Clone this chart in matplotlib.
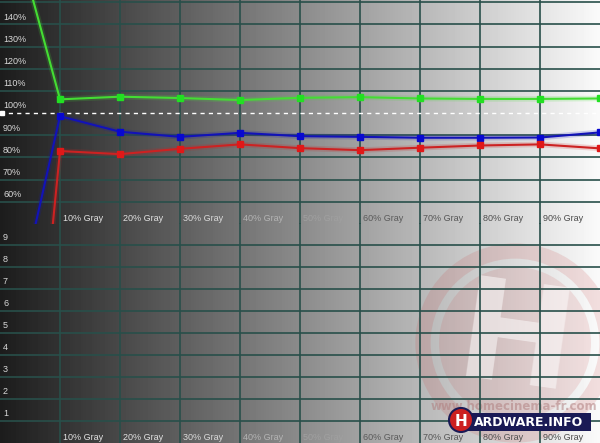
import numpy as np
import matplotlib.pyplot as plt
from matplotlib.patches import Circle, Rectangle
from matplotlib.transforms import blended_transform_factory

# ── data ──
levels = [0, 10, 20, 30, 40, 50, 60, 70, 80, 90, 100]
green = [206, 106.2, 107.4, 106.8, 105.9, 106.9, 107.2, 106.6, 106.4, 106.4, 106.6]
blue = [-21, 98.6, 91.6, 89.3, 91.1, 89.6, 89.3, 88.9, 88.9, 89.0, 91.3]
red = [-193, 82.9, 81.5, 83.9, 85.9, 84.2, 83.3, 84.4, 85.4, 85.9, 84.1]

gray_labels = ["10% Gray", "20% Gray", "30% Gray", "40% Gray", "50% Gray",
               "60% Gray", "70% Gray", "80% Gray", "90% Gray"]
gray_pos = [10, 20, 30, 40, 50, 60, 70, 80, 90]
pct_ticks = [60, 70, 80, 90, 100, 110, 120, 130, 140]
delta_ticks = [1, 2, 3, 4, 5, 6, 7, 8, 9]

label_colors = ['#e2e2e2', '#e2e2e2', '#dadada', '#b4b4b4', '#a0a0a0',
                '#5a5a5a', '#555555', '#505050', '#4a4a4a']
grid_col = '#284f4a'
font = 'Liberation Sans'

W, H = 600, 443
fig = plt.figure(figsize=(W / 100, H / 100), dpi=100)

# ── background gradient + watermark (pixel coordinates) ──
bg = fig.add_axes([0, 0, 1, 1])
bg.set_xlim(0, W)
bg.set_ylim(H, 0)
bg.axis('off')
grad = np.linspace(0.11, 0.98, 600).reshape(1, -1)
bg.imshow(grad, cmap='gray', vmin=0, vmax=1, aspect='auto',
          extent=[0, W, H, 0], zorder=0)

bg.add_patch(Circle((515, 343), 92, facecolor='none', edgecolor='#c84040',
                    lw=11, alpha=0.15, zorder=1))
bg.add_patch(Circle((515, 343), 76, facecolor='#c84040', edgecolor='none',
                    alpha=0.13, zorder=1))
bg.text(515, 346, 'H', color='white', alpha=0.5, fontsize=100,
        fontweight='bold', ha='center', va='center', rotation=-8,
        family='DejaVu Sans', zorder=2)
bg.text(514, 406, 'www.homecinema-fr.com', color='#b08080', alpha=0.55,
        fontsize=8.5, fontweight='bold', ha='center', va='center',
        family='DejaVu Sans', zorder=2)

# ── top panel: RGB balance in % ──
top = fig.add_axes([0, 1 - 224 / H, 1, 224 / H])
top.set_facecolor('none')
top.set_xlim(0, 100)
top.set_ylim(50, 151)
for s in top.spines.values():
    s.set_visible(False)
top.set_xticks([])
top.set_yticks([])

for x in gray_pos:
    top.axvline(x, color=grid_col, lw=1.2, zorder=1)
for y in pct_ticks:
    if y != 100:
        top.axhline(y, color=grid_col, lw=1.2, zorder=1)
top.axhline(150, color=grid_col, lw=1.2, zorder=1)
top.axhline(100, color='white', lw=1, ls=(0, (3, 3)), zorder=2)
top.plot([0.25], [100], marker='s', color='white', ms=3.5, clip_on=False, zorder=3)

tr = blended_transform_factory(top.transAxes, top.transData)
for y in pct_ticks:
    top.text(0.005, y + 1.2, f"{y}%", transform=tr, color='#d8d8d8',
             fontsize=6.5, family=font, va='bottom', ha='left', zorder=4)

for vals, col, mcol in [(green, '#44dd33', '#22e022'),
                        (blue, '#1212b8', '#0808d0'),
                        (red, '#cc2222', '#e01818')]:
    top.plot(levels, vals, color=col, lw=4, alpha=0.18, zorder=3)
    top.plot(levels, vals, color=col, lw=1.5, marker='s', ms=5,
             mfc=mcol, mec=mcol, markevery=slice(1, None), zorder=4)

for x, lab, c in zip(gray_pos, gray_labels, label_colors):
    top.text(x + 0.5, 52.7, lab, color=c, fontsize=6.5, family=font,
             ha='left', va='center', zorder=4)

# ── bottom panel: 0-10 scale ──
bot = fig.add_axes([0, 0, 1, 220 / H])
bot.set_facecolor('none')
bot.set_xlim(0, 100)
bot.set_ylim(0, 10)
for s in bot.spines.values():
    s.set_visible(False)
bot.set_xticks([])
bot.set_yticks([])

for x in gray_pos:
    bot.axvline(x, color=grid_col, lw=1.2, zorder=1)
for y in delta_ticks:
    bot.axhline(y, color=grid_col, lw=1.2, zorder=1)

trb = blended_transform_factory(bot.transAxes, bot.transData)
for y in delta_ticks:
    bot.text(0.005, y + 0.12, str(y), transform=trb, color='#d8d8d8',
             fontsize=6.5, family=font, va='bottom', ha='left', zorder=4)

for x, lab, c in zip(gray_pos, gray_labels, label_colors):
    bot.text(x + 0.5, 0.23, lab, color=c, fontsize=6.5, family=font,
             ha='left', va='center', zorder=4)

# ── logo overlay ──
ov = fig.add_axes([0, 0, 1, 1])
ov.set_facecolor('none')
ov.set_xlim(0, W)
ov.set_ylim(H, 0)
ov.axis('off')
ov.add_patch(Rectangle((466, 413), 125, 18, facecolor='#1a1a55',
                       edgecolor='none', zorder=5))
ov.text(474, 422.5, 'ARDWARE.INFO', color='white', fontsize=9,
        fontweight='bold', ha='left', va='center', family='DejaVu Sans',
        zorder=6)
ov.add_patch(Circle((461, 420), 12, facecolor='#cc2020', edgecolor='#1a1a55',
                    lw=1.5, zorder=6))
ov.text(461, 421, 'H', color='white', fontsize=11, fontweight='bold',
        ha='center', va='center', family='DejaVu Sans', zorder=7)

fig.savefig('out.png', dpi=100)
